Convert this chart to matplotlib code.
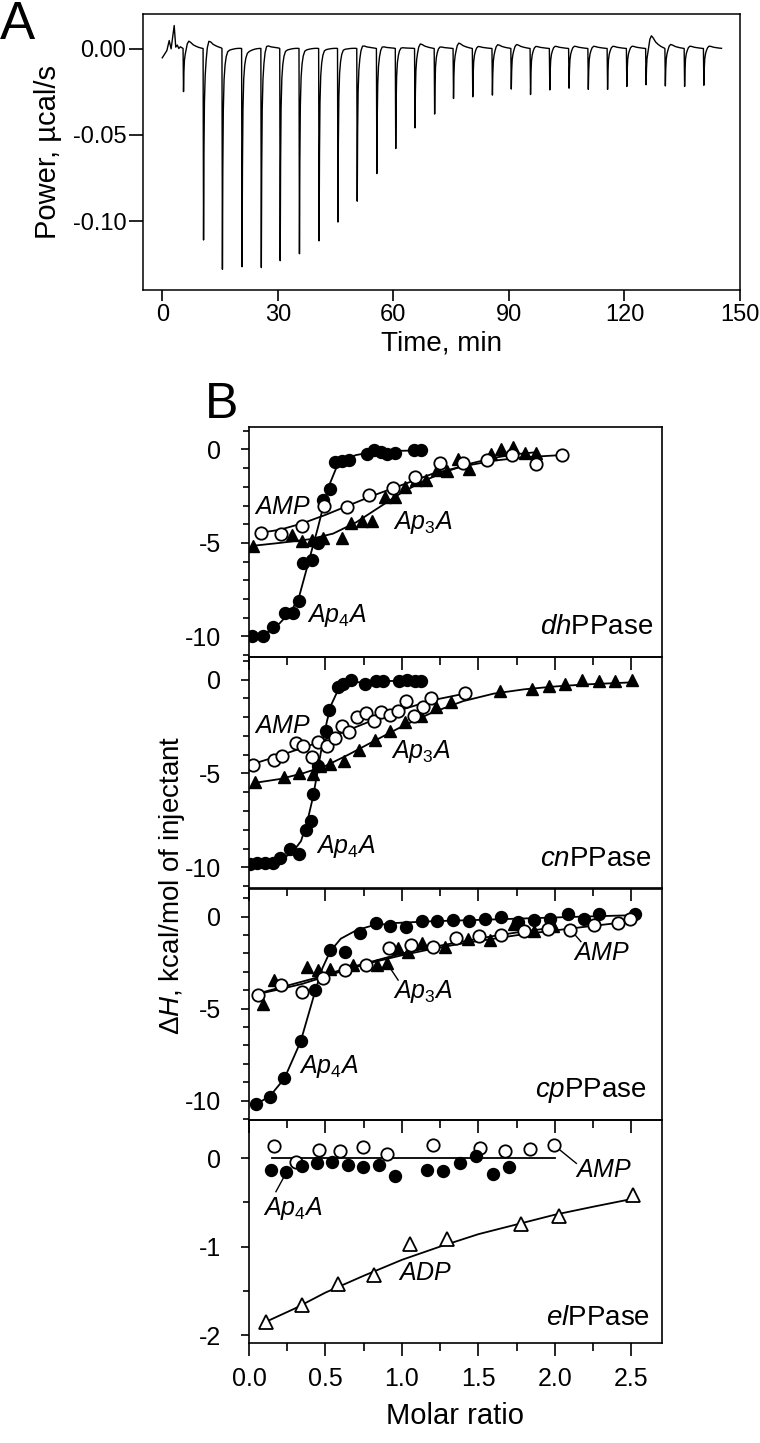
import numpy as np
import matplotlib
matplotlib.use("Agg")
import matplotlib.pyplot as plt
from matplotlib.ticker import MultipleLocator, FormatStrFormatter

# ---------------- panel A: ITC thermogram ----------------
INJ_TIME = [5.4, 10.6, 15.5, 20.6, 25.6, 30.5, 35.5, 40.6, 45.5, 50.5, 55.6, 60.5, 65.5, 70.6,
            75.5, 80.5, 85.6, 90.5, 95.5, 100.5, 105.5, 110.5, 115.5, 120.5, 125.5, 130.5,
            135.5, 140.5]
INJ_DEPTH = [0.025, 0.111, 0.128, 0.1265, 0.127, 0.123, 0.119, 0.1115, 0.1006, 0.0885, 0.0725,
             0.058, 0.046, 0.038, 0.029, 0.028, 0.027, 0.0235, 0.0267, 0.024, 0.023, 0.0237,
             0.0237, 0.022, 0.021, 0.0217, 0.022, 0.0213]
INJ_BUMP = [0.005, 0.0075, 0.002, 0.001, 0.005, 0.002, 0.002, 0.002, 0.002, 0.004, 0.003, 0.002,
            0.004, 0.002, 0.004, 0.002, 0.003, 0.003, 0.002, 0.002, 0.002, 0.002, 0.002, 0.002,
            0.008, 0.003, 0.002, 0.002]
# peak shape read from one injection: offset (min), fraction of depth, fraction of bump
SHAPE_DT = [0.0, 0.12, 0.22, 0.35, 0.55, 0.8, 1.1, 1.5, 2.0, 2.6, 3.3, 4.0, 4.7]
SHAPE_DEPTH = [0.0, 1.0, 0.55, 0.28, 0.14, 0.08, 0.05, 0.03, 0.02, 0.012, 0.006, 0.002, 0.0]
SHAPE_BUMP = [0.0, 0.0, 0.0, 0.0, 0.0, 0.3, 0.8, 1.0, 0.8, 0.5, 0.3, 0.15, 0.05]
START_T = [0.0, 1.2, 1.8, 2.3, 3.1, 3.5, 3.9, 4.3, 4.7]
START_P = [-0.0054, -0.0012, 0.0046, -0.0002, 0.0133, 0.0008, 0.002, 0.0, 0.001]

# ---------------- panel B: titration isotherms ----------------
# dhPPase
DH_AP4A_X = [0.017, 0.094, 0.154, 0.235, 0.289, 0.326, 0.355, 0.409, 0.448, 0.481, 0.529, 0.564,
             0.605, 0.653, 0.772, 0.816, 0.862, 0.903, 0.953, 1.077, 1.127]
DH_AP4A_Y = [-9.98, -9.98, -9.51, -8.75, -8.75, -8.09, -6.06, -5.92, -5.00, -2.70, -2.12, -0.67,
             -0.64, -0.58, -0.23, -0.02, -0.14, -0.23, -0.18, -0.05, -0.05]
DH_AP4A_FX = [0.0, 0.1, 0.2, 0.28, 0.33, 0.37, 0.41, 0.45, 0.49, 0.53, 0.57, 0.62, 0.7, 0.8, 0.95, 1.13]
DH_AP4A_FY = [-10.0, -9.9, -9.3, -8.6, -7.8, -6.6, -5.4, -4.2, -2.9, -1.8, -1.0, -0.55, -0.3,
              -0.15, -0.08, -0.05]
DH_AMP_X = [0.076, 0.209, 0.346, 0.49, 0.642, 0.785, 0.942, 1.088, 1.247, 1.40, 1.556, 1.719,
            1.878, 2.045]
DH_AMP_Y = [-4.47, -4.52, -4.08, -3.02, -3.06, -2.44, -2.05, -1.50, -0.71, -0.71, -0.58, -0.28,
            -0.78, -0.30]
DH_AMP_FX = [0.076, 0.2, 0.35, 0.5, 0.65, 0.8, 1.0, 1.2, 1.4, 1.6, 1.8, 2.045]
DH_AMP_FY = [-4.45, -4.3, -3.95, -3.5, -3.0, -2.5, -1.9, -1.3, -0.9, -0.6, -0.42, -0.3]
DH_AP3A_X = [0.028, 0.279, 0.348, 0.409, 0.481, 0.605, 0.67, 0.74, 0.807, 0.888, 0.953, 1.018,
             1.094, 1.16, 1.229, 1.297, 1.366, 1.438, 1.584, 1.65, 1.726, 1.802, 1.874]
DH_AP3A_Y = [-5.18, -4.56, -4.91, -4.85, -4.73, -4.73, -3.94, -3.85, -3.85, -2.53, -2.56, -2.0,
             -1.64, -1.64, -1.11, -1.15, -0.49, -1.02, -0.23, 0.04, 0.12, -0.18, -0.18]
DH_AP3A_FX = [0.028, 0.2, 0.4, 0.55, 0.7, 0.85, 1.0, 1.15, 1.3, 1.45, 1.6, 1.75, 1.874]
DH_AP3A_FY = [-5.15, -5.0, -4.8, -4.5, -3.9, -3.1, -2.3, -1.65, -1.15, -0.75, -0.45, -0.25, -0.15]

# cnPPase
CN_AP4A_X = [0.007, 0.054, 0.104, 0.154, 0.202, 0.268, 0.326, 0.372, 0.403, 0.416, 0.453, 0.503,
             0.524, 0.579, 0.616, 0.666, 0.757, 0.829, 0.877, 0.981, 1.034, 1.084, 1.127]
CN_AP4A_Y = [-9.84, -9.79, -9.75, -9.79, -9.52, -9.04, -9.27, -8.01, -7.53, -6.10, -4.59, -2.76,
             -1.60, -0.41, -0.23, -0.02, -0.23, -0.09, -0.09, -0.09, -0.05, -0.09, -0.09]
CN_AP4A_FX = [0.0, 0.1, 0.2, 0.28, 0.34, 0.38, 0.42, 0.45, 0.48, 0.51, 0.54, 0.58, 0.63, 0.7,
              0.85, 1.127]
CN_AP4A_FY = [-9.85, -9.8, -9.6, -9.25, -8.6, -7.6, -6.2, -4.8, -3.4, -2.2, -1.3, -0.6, -0.3,
              -0.15, -0.08, -0.07]
CN_AMP_X = [0.024, 0.163, 0.213, 0.305, 0.355, 0.409, 0.453, 0.507, 0.561, 0.611, 0.655, 0.707,
            0.764, 0.816, 0.866, 0.92, 0.975, 1.025, 1.077, 1.138, 1.192, 1.41]
CN_AMP_Y = [-4.55, -4.29, -4.06, -3.40, -3.52, -4.11, -3.35, -3.52, -3.11, -2.46, -2.78, -2.01,
            -1.78, -2.22, -1.74, -1.87, -1.69, -1.12, -1.96, -1.44, -1.00, -0.73]
CN_AMP_FX = [0.024, 0.2, 0.4, 0.6, 0.8, 1.0, 1.2, 1.41]
CN_AMP_FY = [-4.5, -4.05, -3.5, -2.85, -2.2, -1.6, -1.1, -0.75]
CN_AP3A_X = [0.039, 0.228, 0.329, 0.42, 0.463, 0.529, 0.622, 0.718, 0.822, 0.92, 1.018, 1.127,
             1.225, 1.323, 1.639, 1.852, 1.961, 2.067, 2.176, 2.285, 2.396, 2.505]
CN_AP3A_Y = [-5.43, -5.18, -4.95, -5.04, -4.59, -4.50, -4.32, -3.75, -3.22, -2.76, -2.28, -1.92,
             -1.44, -1.21, -0.59, -0.50, -0.32, -0.23, -0.05, -0.09, -0.09, -0.02]
CN_AP3A_FX = [0.039, 0.2, 0.35, 0.5, 0.65, 0.8, 1.0, 1.2, 1.4, 1.6, 1.8, 2.0, 2.2, 2.505]
CN_AP3A_FY = [-5.5, -5.3, -5.0, -4.6, -4.0, -3.35, -2.5, -1.75, -1.15, -0.75, -0.52, -0.37,
              -0.26, -0.15]

# cpPPase
CP_AP4A_X = [0.046, 0.137, 0.231, 0.337, 0.431, 0.529, 0.627, 0.725, 0.829, 0.925, 1.025, 1.130,
             1.232, 1.334, 1.438, 1.546, 1.650, 1.756, 1.864, 1.971, 2.084, 2.188, 2.291, 2.526]
CP_AP4A_Y = [-10.18, -9.78, -8.78, -6.76, -4.00, -1.82, -1.91, -0.91, -0.33, -0.51, -0.55, -0.24,
             -0.22, -0.18, -0.24, -0.15, 0.0, -0.27, -0.18, -0.13, 0.13, -0.15, 0.13, 0.13]
CP_AP4A_FX = [0.046, 0.137, 0.231, 0.337, 0.431, 0.48, 0.53, 0.6, 0.7, 0.8, 0.95, 1.2, 1.5, 1.8,
              2.1, 2.526]
CP_AP4A_FY = [-10.2, -9.75, -8.8, -6.8, -4.1, -2.8, -1.9, -1.2, -0.75, -0.5, -0.35, -0.25, -0.18,
              -0.1, -0.02, 0.08]
CP_AMP_X = [0.061, 0.207, 0.344, 0.485, 0.627, 0.768, 0.916, 1.062, 1.203, 1.353, 1.502, 1.649,
            1.799, 1.953, 2.100, 2.258, 2.410, 2.493]
CP_AMP_Y = [-4.27, -3.73, -4.09, -3.36, -2.91, -2.64, -1.73, -1.55, -1.65, -1.16, -1.07, -1.00,
            -0.78, -0.68, -0.71, -0.45, -0.33, -0.13]
CP_AMP_FX = [0.061, 0.2, 0.35, 0.5, 0.65, 0.8, 1.0, 1.2, 1.4, 1.6, 1.8, 2.0, 2.2, 2.493]
CP_AMP_FY = [-4.2, -3.95, -3.65, -3.25, -2.85, -2.5, -2.1, -1.75, -1.45, -1.2, -0.95, -0.75,
             -0.55, -0.27]
CP_AP3A_X = [0.094, 0.163, 0.381, 0.453, 0.529, 0.681, 0.834, 0.903, 0.975, 1.041, 1.128, 1.28,
             1.432, 1.578, 1.73, 1.86, 1.99]
CP_AP3A_Y = [-4.73, -3.45, -2.76, -2.91, -2.82, -2.64, -2.64, -2.51, -1.73, -1.91, -1.45, -1.64,
             -1.21, -1.25, -0.4, -0.8, -0.5]
CP_AP3A_FX = [0.094, 0.25, 0.45, 0.6, 0.8, 1.0, 1.2, 1.4, 1.6, 1.8, 1.99]
CP_AP3A_FY = [-4.1, -3.75, -3.3, -2.9, -2.45, -2.0, -1.65, -1.35, -1.05, -0.8, -0.6]

# elPPase
EL_AMP_X = [0.165, 0.307, 0.459, 0.598, 0.746, 0.899, 1.203, 1.510, 1.671, 1.834, 1.994]
EL_AMP_Y = [0.14, -0.04, 0.09, 0.08, 0.13, 0.05, 0.15, 0.11, 0.08, 0.10, 0.15]
EL_AP4A_X = [0.141, 0.242, 0.344, 0.442, 0.544, 0.644, 0.746, 0.851, 0.953, 1.164, 1.268, 1.377,
             1.486, 1.595, 1.699]
EL_AP4A_Y = [-0.14, -0.16, -0.09, -0.06, -0.04, -0.08, -0.10, -0.08, -0.20, -0.13, -0.15, -0.06,
             0.02, -0.18, -0.10]
EL_ZERO_X = [0.15, 2.0]
EL_ZERO_Y = [0.0, 0.0]
EL_ADP_X = [0.111, 0.348, 0.583, 0.818, 1.053, 1.295, 1.779, 2.024, 2.51]
EL_ADP_Y = [-1.85, -1.66, -1.42, -1.32, -0.97, -0.91, -0.74, -0.65, -0.42]
EL_ADP_FX = [0.111, 0.3, 0.5, 0.75, 1.0, 1.25, 1.5, 1.75, 2.0, 2.25, 2.51]
EL_ADP_FY = [-1.85, -1.7, -1.52, -1.33, -1.15, -1.0, -0.86, -0.75, -0.64, -0.55, -0.46]


def main():
    plt.rcParams['font.family'] = ['Liberation Sans', 'DejaVu Sans']
    plt.rcParams['axes.unicode_minus'] = False
    plt.rcParams['mathtext.fontset'] = 'custom'
    plt.rcParams['mathtext.rm'] = 'Liberation Sans'
    plt.rcParams['mathtext.it'] = 'Liberation Sans:italic'

    fig = plt.figure(figsize=(7.6, 14.43), dpi=100)

    # ---- panel A ----
    axa = fig.add_axes([143 / 760, 1 - 290 / 1443, 597 / 760, 276 / 1443])
    t_parts = [np.array(START_T)]
    p_parts = [np.array(START_P)]
    for t0, d, b in zip(INJ_TIME, INJ_DEPTH, INJ_BUMP):
        t_parts.append(t0 + np.array(SHAPE_DT))
        p_parts.append(-d * np.array(SHAPE_DEPTH) + b * np.array(SHAPE_BUMP))
    axa.plot(np.concatenate(t_parts), np.concatenate(p_parts), color='black', lw=1.0)
    axa.set_xlim(-5, 150)
    axa.set_ylim(-0.14, 0.02)
    axa.set_xticks([0, 30, 60, 90, 120, 150])
    axa.set_yticks([0.0, -0.05, -0.10])
    axa.yaxis.set_major_formatter(FormatStrFormatter('%.2f'))
    axa.tick_params(axis='x', direction='out', length=8, width=1.2, labelsize=17, pad=2)
    axa.tick_params(axis='y', direction='out', length=10, width=1.2, labelsize=17, pad=2)
    for s in axa.spines.values():
        s.set_linewidth(1.1)
    axa.set_xlabel('Time, min', fontsize=20, labelpad=3)
    axa.set_ylabel('Power, µcal/s', fontsize=21, labelpad=8)
    fig.text(0.0, 1.0, 'A', fontsize=38, ha='left', va='top')

    # ---- panel B ----
    left, width = 249 / 760, 413 / 760
    spans = [(427, 657), (657, 888), (889, 1120), (1120, 1343)]
    axes = []
    for top, bot in spans:
        ax = fig.add_axes([left, 1 - bot / 1443, width, (bot - top) / 1443])
        ax.set_facecolor('none')
        ax.set_xlim(0, 2.7)
        ax.xaxis.set_major_locator(MultipleLocator(0.5))
        ax.xaxis.set_minor_locator(MultipleLocator(0.25))
        ax.tick_params(axis='x', which='major', direction='out', length=9, width=1.2,
                       labelsize=18, pad=8)
        ax.tick_params(axis='x', which='minor', direction='out', length=6, width=1.2)
        ax.tick_params(axis='y', which='major', direction='out', length=6, width=1.2,
                       labelsize=18, pad=14)
        ax.tick_params(axis='y', which='minor', direction='out', length=4, width=1.2)
        for s in ax.spines.values():
            s.set_linewidth(1.2)
        axes.append(ax)
    for ax in axes[:3]:
        ax.set_ylim(-11.1, 1.2)
        ax.yaxis.set_major_locator(MultipleLocator(5))
        ax.yaxis.set_minor_locator(MultipleLocator(1))
        ax.tick_params(axis='x', labelbottom=False)
    axes[2].set_ylim(-11.05, 1.5)
    axes[3].set_ylim(-2.09, 0.43)
    axes[3].yaxis.set_major_locator(MultipleLocator(1))
    axes[3].yaxis.set_minor_locator(MultipleLocator(0.5))
    axes[3].xaxis.set_major_formatter(FormatStrFormatter('%.1f'))
    for ax in axes:
        ax.yaxis.set_major_formatter(FormatStrFormatter('%g'))

    ms = 8.4
    lw = 1.3
    fill = dict(marker='o', ls='none', ms=ms, mfc='black', mec='black', mew=1.2)
    openc = dict(marker='o', ls='none', ms=ms + 0.5, mfc='white', mec='black', mew=1.3)
    tri = dict(marker='^', ls='none', ms=ms + 0.4, mfc='black', mec='black', mew=1.0)
    otri = dict(marker='^', ls='none', ms=ms + 1.0, mfc='white', mec='black', mew=1.3)
    txt = dict(fontsize=18, va='center')

    # dh
    ax = axes[0]
    ax.plot(DH_AP3A_FX, DH_AP3A_FY, 'k-', lw=lw)
    ax.plot(DH_AMP_FX, DH_AMP_FY, 'k-', lw=lw)
    ax.plot(DH_AP4A_FX, DH_AP4A_FY, 'k-', lw=lw)
    ax.plot(DH_AP3A_X, DH_AP3A_Y, **tri)
    ax.plot(DH_AP4A_X, DH_AP4A_Y, **fill)
    ax.plot(DH_AMP_X, DH_AMP_Y, **openc)
    ax.text(0.03, -3.1, r'$\mathit{AMP}$', **txt)
    ax.text(0.94, -3.9, r'$\mathit{Ap_3A}$', **txt)
    ax.text(0.38, -8.9, r'$\mathit{Ap_4A}$', **txt)
    ax.text(2.64, -9.5, r'$\mathit{dh}$PPase', fontsize=20, va='center', ha='right')

    # cn
    ax = axes[1]
    ax.plot(CN_AP3A_FX, CN_AP3A_FY, 'k-', lw=lw)
    ax.plot(CN_AMP_FX, CN_AMP_FY, 'k-', lw=lw)
    ax.plot(CN_AP4A_FX, CN_AP4A_FY, 'k-', lw=lw)
    ax.plot(CN_AP3A_X, CN_AP3A_Y, **tri)
    ax.plot(CN_AP4A_X, CN_AP4A_Y, **fill)
    ax.plot(CN_AMP_X, CN_AMP_Y, **openc)
    ax.text(0.03, -2.5, r'$\mathit{AMP}$', **txt)
    ax.text(0.93, -3.85, r'$\mathit{Ap_3A}$', **txt)
    ax.text(0.44, -8.9, r'$\mathit{Ap_4A}$', **txt)
    ax.text(2.63, -9.55, r'$\mathit{cn}$PPase', fontsize=20, va='center', ha='right')

    # cp
    ax = axes[2]
    ax.plot(CP_AP3A_FX, CP_AP3A_FY, 'k-', lw=lw)
    ax.plot(CP_AMP_FX, CP_AMP_FY, 'k-', lw=lw)
    ax.plot(CP_AP4A_FX, CP_AP4A_FY, 'k-', lw=lw)
    ax.plot([0.903, 0.975], [-2.55, -3.45], 'k-', lw=1.0)
    ax.plot([2.10, 2.17], [-0.69, -1.36], 'k-', lw=1.0)
    ax.plot(CP_AP3A_X, CP_AP3A_Y, **tri)
    ax.plot(CP_AP4A_X, CP_AP4A_Y, **fill)
    ax.plot(CP_AMP_X, CP_AMP_Y, **openc)
    ax.text(0.94, -4.05, r'$\mathit{Ap_3A}$', **txt)
    ax.text(0.33, -8.15, r'$\mathit{Ap_4A}$', **txt)
    ax.text(2.12, -1.95, r'$\mathit{AMP}$', **txt)
    ax.text(2.60, -9.45, r'$\mathit{cp}$PPase', fontsize=20, va='center', ha='right')

    # el
    ax = axes[3]
    ax.plot(EL_ZERO_X, EL_ZERO_Y, 'k-', lw=lw)
    ax.plot(EL_ADP_FX, EL_ADP_FY, 'k-', lw=lw)
    ax.plot([0.242, 0.176], [-0.17, -0.38], 'k-', lw=1.0)
    ax.plot([1.991, 2.14], [0.15, -0.06], 'k-', lw=1.0)
    ax.plot(EL_AMP_X, EL_AMP_Y, **openc)
    ax.plot(EL_AP4A_X, EL_AP4A_Y, **fill)
    ax.plot(EL_ADP_X, EL_ADP_Y, **otri)
    ax.text(0.09, -0.57, r'$\mathit{Ap_4A}$', **txt)
    ax.text(0.975, -1.3, r'$\mathit{ADP}$', **txt)
    ax.text(2.13, -0.13, r'$\mathit{AMP}$', **txt)
    ax.text(2.62, -1.81, r'$\mathit{el}$PPase', fontsize=20, va='center', ha='right')
    ax.set_xlabel('Molar ratio', fontsize=21, labelpad=8)

    fig.text(172 / 760, 1 - 885 / 1443, r'Δ$\mathit{H}$, kcal/mol of injectant', fontsize=20,
             rotation=90, ha='center', va='center')
    fig.text(205 / 760, 1 - 405 / 1443, 'B', fontsize=36, ha='left', va='center')

    fig.savefig('out.png', dpi=100)


if __name__ == "__main__":
    main()
